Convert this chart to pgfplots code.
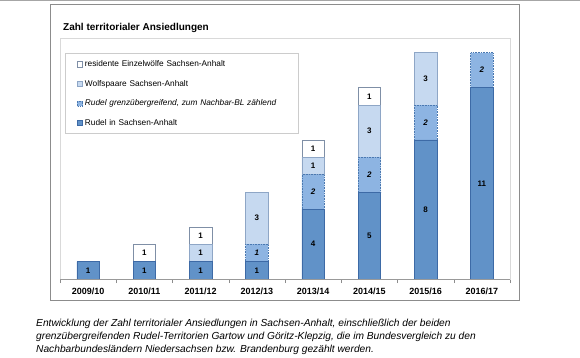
\documentclass[border=0pt]{standalone}
\usepackage{pgfplots}
\pgfplotsset{compat=1.18}
\usepackage{pgfplotstable}
\usepackage{fontspec}
\setmainfont{Liberation Sans}
\definecolor{rud}{HTML}{6192C8}
\definecolor{rudd}{HTML}{3D6AA6}
\definecolor{gre}{HTML}{8DB4E2}
\definecolor{gred}{HTML}{4A78B0}
\definecolor{paa}{HTML}{C6D9F0}
\definecolor{paad}{HTML}{8EA6C6}
\definecolor{ein}{HTML}{FFFFFF}
\definecolor{eind}{HTML}{7F8FA6}
\pgfplotstableread{
x r g p e
0 1 0 0 0
1 1 0 0 1
2 1 0 1 1
3 1 1 3 0
4 4 2 1 1
5 5 2 3 1
6 8 2 3 0
7 11 2 0 0
}\data
\pgfplotsset{
  lbl/.style={
    nodes near coords={\pgfmathfloatifflags{\pgfplotspointmeta}{0}{}{\pgfmathprintnumber{\pgfplotspointmeta}}},
    point meta=\thisrow{#1},
    every node near coord/.append style={anchor=center, font=\bfseries\fontsize{8}{9}\selectfont, text=black, inner sep=0pt},
  },
}
\begin{document}
\begin{tikzpicture}
\path[use as bounding box] (0pt,0pt) rectangle (580pt,357pt);
\draw[black!35, line width=1.5pt] (0pt,356.3pt) -- (580pt,356.3pt);
\draw[black!45, line width=1pt] (50pt,57pt) rectangle (519pt,352pt);
\node[anchor=base west, inner sep=0pt, font=\bfseries\fontsize{10}{12}\selectfont] at (63pt,326pt) {Zahl territorialer Ansiedlungen};
\begin{axis}[
  at={(60pt,78pt)}, anchor=south west,
  x=56.25pt, y=17.4pt,
  xmin=-0.5, xmax=7.5, ymin=0, ymax=13.85,
  ybar stacked, bar width=22.5pt,
  /pgf/number format/assume math mode=true,
  axis line style={draw=black!15},
  ytick=\empty,
  xtick={0,...,7},
  xticklabels={2009/10,2010/11,2011/12,2012/13,2013/14,2014/15,2015/16,2016/17},
  major x tick style={draw=none},
  minor xtick={-0.5,0.5,...,7.5},
  minor x tick style={draw=black!45},
  minor tick length=4pt,
  xtick pos=left, xtick align=outside,
  xticklabel style={font=\bfseries\fontsize{9}{10}\selectfont, yshift=-1pt},
  legend cell align=left,
  reverse legend,
  legend image code/.code={\path (0pt,0pt); \draw[#1] (10pt,-2.6pt) rectangle (15.2pt,2.6pt);},
  legend style={at={(0.011,0.936)}, anchor=north west, draw=black!20, fill=white,
    font=\fontsize{8.3}{9.5}\selectfont, row sep=8pt, inner xsep=2pt, inner ysep=5pt,
    /tikz/every even column/.append style={text width=209pt}},
  after end axis/.code={\draw[black!40] (rel axis cs:0,0) -- (rel axis cs:1,0);},
]
\addplot[fill=rud, draw=rudd, line width=0.6pt, lbl=r] table[x=x,y=r]{\data};
\addlegendentry{Rudel in Sachsen-Anhalt}
\addplot[fill=gre, draw=gred, densely dotted, line width=0.6pt, lbl=g,
  every node near coord/.append style={font=\bfseries\itshape\fontsize{8}{9}\selectfont}] table[x=x,y=g]{\data};
\addlegendentry{\textit{Rudel grenzübergreifend, zum Nachbar-BL zählend}}
\addplot[fill=paa, draw=paad, line width=0.6pt, lbl=p] table[x=x,y=p]{\data};
\addlegendentry{Wolfspaare Sachsen-Anhalt}
\addplot[fill=ein, draw=eind, line width=0.6pt, lbl=e] table[x=x,y=e]{\data};
\addlegendentry{residente Einzelwölfe Sachsen-Anhalt}
\end{axis}
\node[anchor=north west, inner sep=0pt, align=left, font=\itshape\fontsize{10.2}{13}\selectfont] at (36pt,38pt)
{Entwicklung der Zahl territorialer Ansiedlungen in Sachsen-Anhalt, einschließlich der beiden\\
grenzübergreifenden Rudel-Territorien Gartow und Göritz-Klepzig, die im Bundesvergleich zu den\\
Nachbarbundesländern Niedersachsen bzw. Brandenburg gezählt werden.};
\end{tikzpicture}
\end{document}
